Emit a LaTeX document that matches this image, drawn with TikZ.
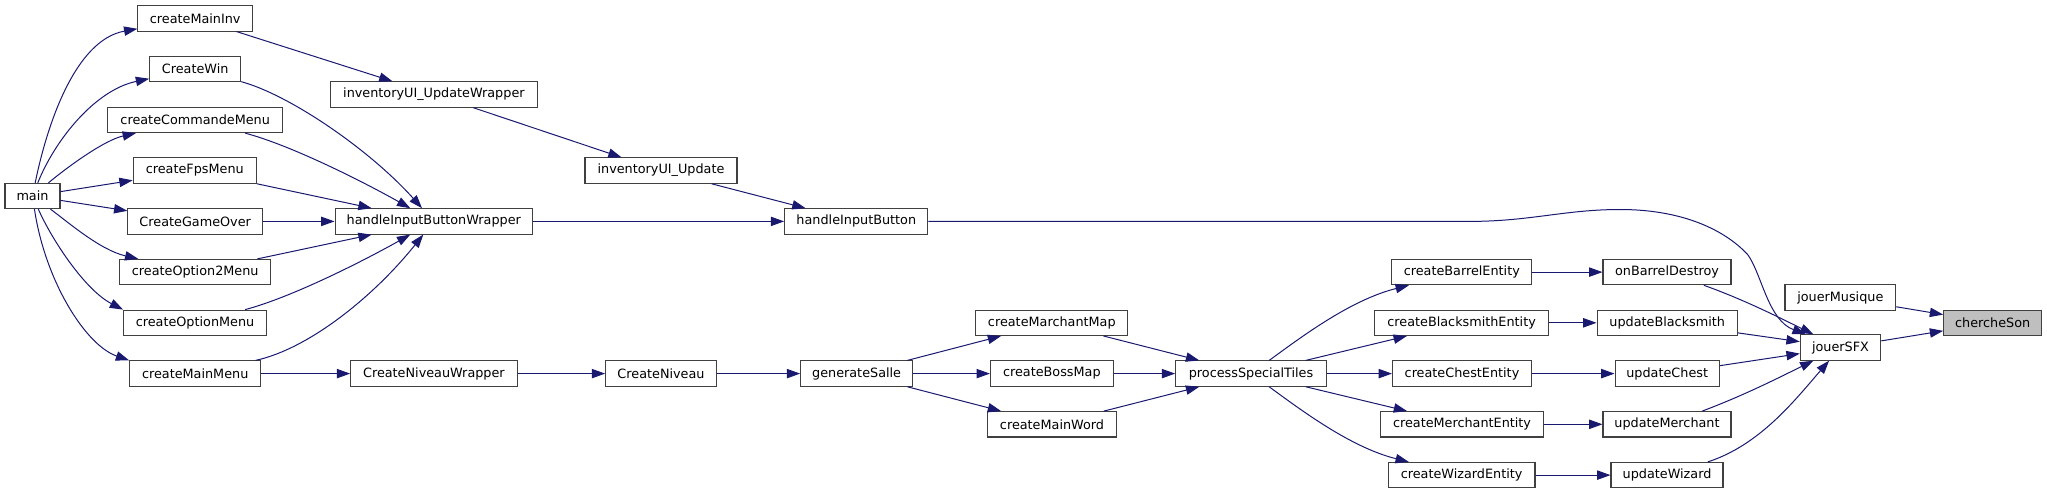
\documentclass[tikz,border=0pt]{standalone}
\usepackage{fontspec}
\setmainfont{DejaVu Sans}
\usetikzlibrary{arrows.meta}
\definecolor{edgec}{HTML}{191970}
\definecolor{bord}{HTML}{404040}
\definecolor{hl}{HTML}{BFBFBF}
\begin{document}
\begin{tikzpicture}[x=0.75pt,y=-0.75pt,
  fn/.style={draw=bord, fill=white, line width=0.8pt, inner sep=0pt,
    minimum height=19pt, font=\fontsize{9.6pt}{11pt}\selectfont,
    minimum width=#1*0.75pt},
  fnhl/.style={fn=#1, fill=hl},
  call/.style={draw=edgec, line width=0.75pt,
    -{Triangle[length=10pt,width=7pt]}},
]
\useasboundingbox (0,0) rectangle (2047,493);
% nodes
\node[fn=55] (main) at (32.5,196) {main};
\node[fn=114.6] (cMainInv) at (195.2,18.4) {createMainInv};
\node[fn=91] (cWin) at (195.2,69.1) {CreateWin};
\node[fn=174.6] (cCmd) at (195.2,119.9) {createCommandeMenu};
\node[fn=123.2] (cFps) at (194.8,170.6) {createFpsMenu};
\node[fn=134.6] (cGO) at (195.2,221.4) {CreateGameOver};
\node[fn=151] (cOpt2) at (195.2,272.1) {createOption2Menu};
\node[fn=142.8] (cOpt) at (195,322.8) {createOptionMenu};
\node[fn=131] (cMM) at (195.2,373.6) {createMainMenu};
\node[fn=206.4] (iuw) at (433.9,94.5) {inventoryUI\_UpdateWrapper};
\node[fn=197.5] (hibw) at (433.8,221.4) {handleInputButtonWrapper};
\node[fn=166.4] (cnw) at (433.9,373.6) {CreateNiveauWrapper};
\node[fn=152] (iu) at (661,170.6) {inventoryUI\_Update};
\node[fn=110.7] (cn) at (661,373.6) {CreateNiveau};
\node[fn=143.3] (hib) at (856.3,221.4) {handleInputButton};
\node[fn=111.8] (gs) at (856.6,373.6) {generateSalle};
\node[fn=152.2] (cmm) at (1051.8,322.8) {createMarchantMap};
\node[fn=122.8] (cbm) at (1051.8,373.6) {createBossMap};
\node[fn=128.2] (cmw) at (1052,424.3) {createMainWord};
\node[fn=150.7] (pst) at (1251,373.6) {processSpecialTiles};
\node[fn=140] (cbe) at (1461.8,272.1) {createBarrelEntity};
\node[fn=174.6] (cbse) at (1461.6,322.8) {createBlacksmithEntity};
\node[fn=139] (cce) at (1462,373.6) {createChestEntity};
\node[fn=162.5] (cme) at (1462,424.3) {createMerchantEntity};
\node[fn=146.8] (cwe) at (1461.6,475.1) {createWizardEntity};
\node[fn=128] (obd) at (1667,272.1) {onBarrelDestroy};
\node[fn=140.3] (ubs) at (1667.2,322.8) {updateBlacksmith};
\node[fn=104.3] (uc) at (1667.2,373.6) {updateChest};
\node[fn=128] (um) at (1667,424.3) {updateMerchant};
\node[fn=112] (uw) at (1667,475.1) {updateWizard};
\node[fn=110.7] (jm) at (1840.3,297.5) {jouerMusique};
\node[fn=80.4] (jsfx) at (1840.5,347.5) {jouerSFX};
\node[fnhl=98] (cs) at (1992.7,322.8) {chercheSon};
% edges from main
\draw[call] (main) .. controls (47,125) and (75,40) .. (cMainInv);
\draw[call] (main) .. controls (55,140) and (95,90) .. (cWin);
\draw[call] (main) .. controls (70,165) and (105,140) .. (cCmd);
\draw[call] (main) -- (cFps);
\draw[call] (main) -- (cGO);
\draw[call] (main) .. controls (68,222) and (100,250) .. (cOpt2);
\draw[call] (main) .. controls (52,240) and (85,290) .. (cOpt.north west);
\draw[call] (main) .. controls (45,280) and (85,345) .. (cMM.north west);
% second column
\draw[call] (cMainInv) -- (iuw);
\draw[call] (cWin) .. controls (290,95) and (370,150) .. (hibw);
\draw[call] (cCmd) .. controls (290,145) and (360,180) .. (hibw);
\draw[call] (cFps) -- (hibw);
\draw[call] (cGO) -- (hibw);
\draw[call] (cOpt2) -- (hibw);
\draw[call] (cOpt) .. controls (290,297.8) and (360,262.8) .. (hibw);
\draw[call] (cMM) .. controls (310,348.5) and (375,295) .. (hibw);
\draw[call] (cMM) -- (cnw);
% middle
\draw[call] (iuw) -- (iu);
\draw[call] (iu) -- (hib);
\draw[call] (hibw) -- (hib);
\draw[call] (cnw) -- (cn);
\draw[call] (cn) -- (gs);
\draw[call] (gs) -- (cmm);
\draw[call] (gs) -- (cbm);
\draw[call] (gs) -- (cmw);
\draw[call] (cmm) -- (pst);
\draw[call] (cbm) -- (pst);
\draw[call] (cmw) -- (pst);
\draw[call] (pst) .. controls (1300,338) and (1350,300) .. (cbe);
\draw[call] (pst) -- (cbse);
\draw[call] (pst) -- (cce);
\draw[call] (pst) -- (cme);
\draw[call] (pst) .. controls (1300,409.2) and (1350,447.2) .. (cwe);
\draw[call] (cbe) -- (obd);
\draw[call] (cbse) -- (ubs);
\draw[call] (cce) -- (uc);
\draw[call] (cme) -- (um);
\draw[call] (cwe) -- (uw);
% into jouerSFX
\draw[call] (hib) -- (1470,221.4) .. controls (1530,221.4) and (1565,209.5) .. (1620,209.5)
  .. controls (1690,209.5) and (1730,235) .. (1748,255)
  .. controls (1762,275) and (1768,320) .. (jsfx);
\draw[call] (obd) .. controls (1745,300) and (1780,318) .. (jsfx);
\draw[call] (ubs) -- (jsfx);
\draw[call] (uc) -- (jsfx);
\draw[call] (um) .. controls (1745,395) and (1780,377) .. (jsfx);
\draw[call] (uw) .. controls (1760,445) and (1795,400) .. (jsfx);
\draw[call] (jm) -- (cs);
\draw[call] (jsfx) -- (cs);
\end{tikzpicture}
\end{document}
